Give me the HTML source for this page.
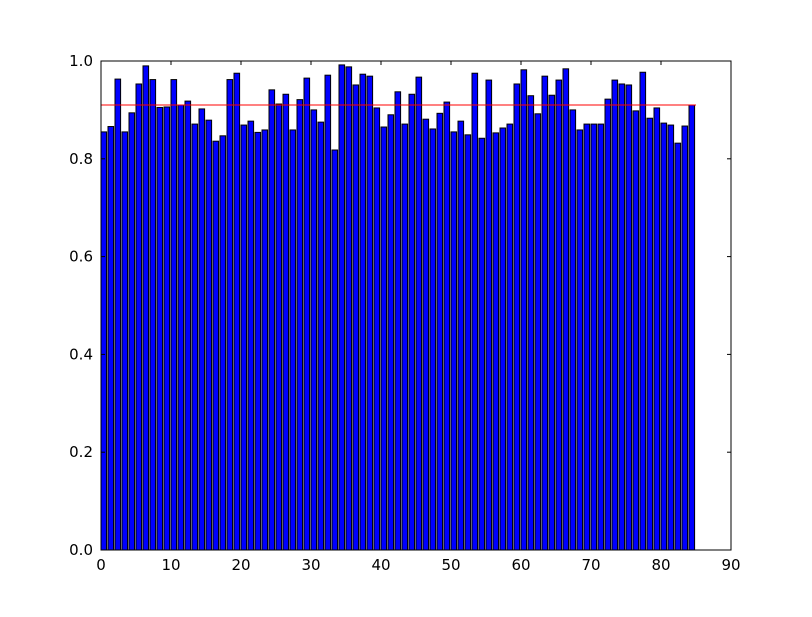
<!DOCTYPE html>
<html><head><meta charset="utf-8"><style>
body{margin:0;background:#fff;}
svg text{font-family:"DejaVu Sans","Liberation Sans",sans-serif;font-size:15px;fill:#000;}
</style></head><body>
<svg id="chart" width="812" height="612" xmlns="http://www.w3.org/2000/svg">
<rect x="0" y="0" width="812" height="612" fill="#fff"/>
<g id="bars"></g>
<g id="axes"></g>
</svg>
<script>
const values = [0.855,0.866,0.963,0.855,0.894,0.953,0.990,0.962,0.905,0.906,
0.962,0.910,0.918,0.871,0.902,0.879,0.836,0.847,0.962,0.975,
0.869,0.877,0.854,0.859,0.941,0.912,0.932,0.859,0.921,0.965,
0.900,0.875,0.971,0.818,0.992,0.988,0.951,0.973,0.969,0.904,
0.865,0.890,0.937,0.871,0.932,0.967,0.881,0.861,0.893,0.916,
0.855,0.877,0.849,0.975,0.842,0.961,0.853,0.863,0.871,0.953,
0.982,0.929,0.892,0.969,0.930,0.961,0.984,0.900,0.859,0.871,
0.871,0.871,0.922,0.961,0.953,0.951,0.898,0.977,0.883,0.904,
0.873,0.869,0.832,0.867,0.910];
const refLine = [0.910];
const xTicks = [0,10,20,30,40,50,60,70,80,90];
const yTicks = [0.0,0.2,0.4,0.6,0.8,1.0];
const X0=101,X1=731,Y0=550,Y1=61;
const sx=v=>X0+(v-0)/(90-0)*(X1-X0);
const sy=v=>Y0-(v-0)/(1-0)*(Y0-Y1);
const NS="http://www.w3.org/2000/svg";
const bars=document.getElementById('bars');
values.forEach((v,i)=>{
  const r=document.createElementNS(NS,'rect');
  r.setAttribute('x',sx(i));r.setAttribute('y',sy(v));
  r.setAttribute('width',sx(i+0.8)-sx(i));r.setAttribute('height',sy(0)-sy(v));
  r.setAttribute('fill','#0000ff');r.setAttribute('stroke','#000');r.setAttribute('stroke-width','1');
  
  
  bars.appendChild(r);
});
const ax=document.getElementById('axes');
refLine.forEach(v=>{
  const l=document.createElementNS(NS,'line');
  l.setAttribute('x1',sx(0));l.setAttribute('x2',sx(values.length));
  l.setAttribute('y1',sy(v));l.setAttribute('y2',sy(v));
  l.setAttribute('stroke','#ff0000');l.setAttribute('stroke-width','1');
  
  
  ax.appendChild(l);
});
const frame=document.createElementNS(NS,'rect');
frame.setAttribute('x',X0);frame.setAttribute('y',Y1);frame.setAttribute('width',X1-X0);frame.setAttribute('height',Y0-Y1);
frame.setAttribute('fill','none');frame.setAttribute('stroke','#000');frame.setAttribute('stroke-width','1');


ax.appendChild(frame);
function line(x1,y1,x2,y2){const l=document.createElementNS(NS,'line');l.setAttribute('x1',x1);l.setAttribute('y1',y1);l.setAttribute('x2',x2);l.setAttribute('y2',y2);l.setAttribute('stroke','#000');l.setAttribute('stroke-width','1');ax.appendChild(l);return l;}
xTicks.forEach(t=>{
  const x=sx(t);
  line(x,Y0,x,Y0-4);
  line(x,Y1,x,Y1+4);
  const tx=document.createElementNS(NS,'text');
  tx.setAttribute('x',x);tx.setAttribute('y',Y0+20);tx.setAttribute('text-anchor','middle');
  tx.textContent=String(t);
  
  
  ax.appendChild(tx);
});
yTicks.forEach(t=>{
  const y=sy(t);
  line(X0,y,X0+4,y);
  line(X1,y,X1-4,y);
  const tx=document.createElementNS(NS,'text');
  tx.setAttribute('x',X0-8);tx.setAttribute('y',y+5);tx.setAttribute('text-anchor','end');
  tx.textContent=t.toFixed(1);
  
  
  ax.appendChild(tx);
});
</script>
</body></html>
